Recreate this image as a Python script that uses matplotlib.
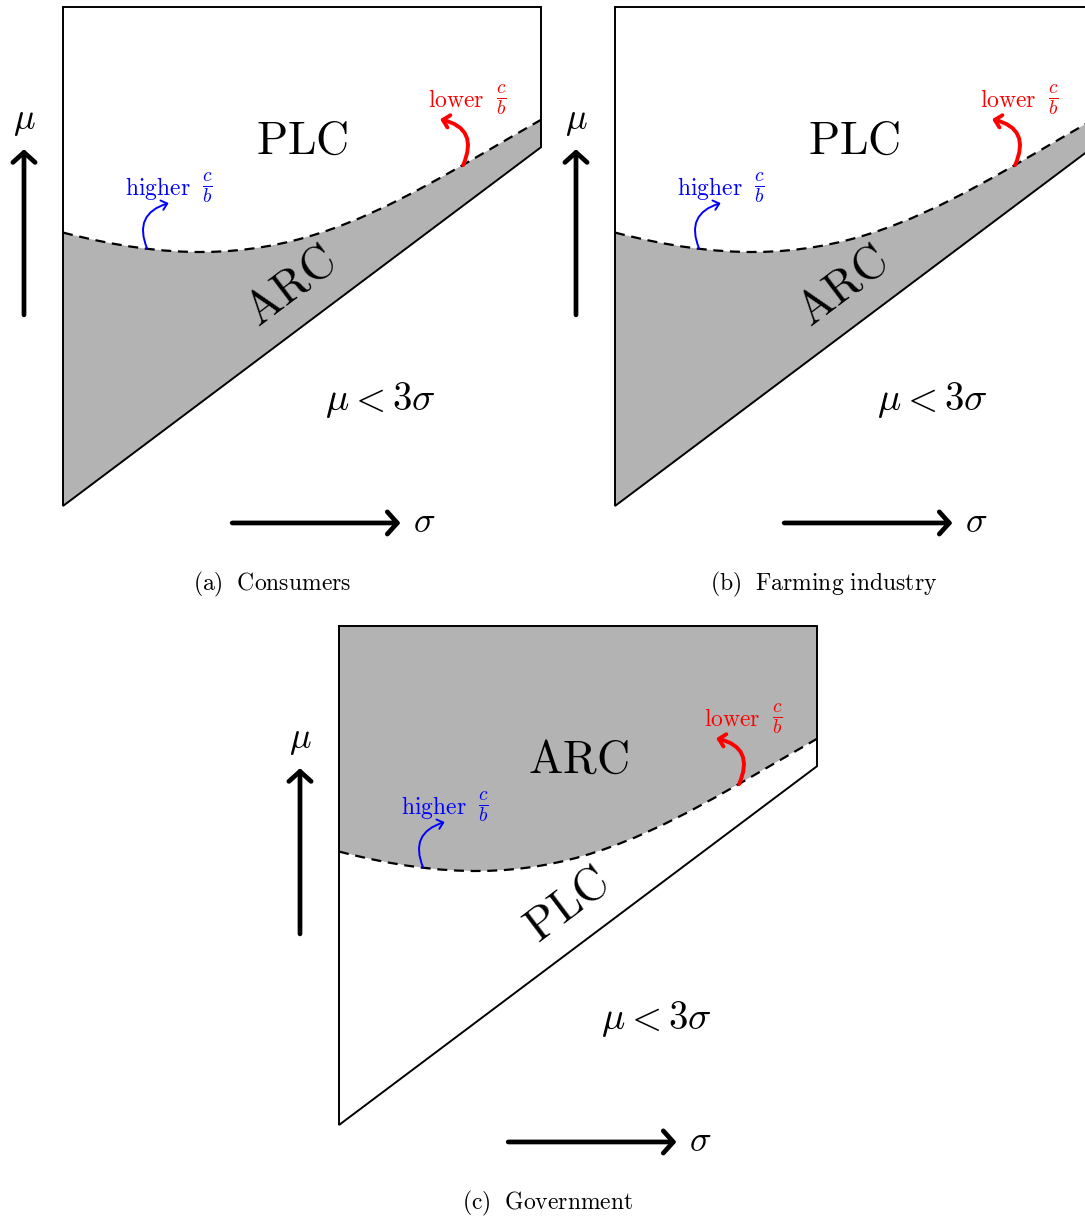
import matplotlib

matplotlib.use("Agg")
import matplotlib.pyplot as plt
from matplotlib.patches import FancyArrowPatch, PathPatch
from matplotlib.path import Path

plt.rcParams["mathtext.fontset"] = "cm"

W, H = 1085, 1217
PANEL_W, PANEL_H = 478, 499

# boundary curve between the two policy regions, as a cubic Bezier
# (start, two control points, end) in panel units (sigma, mu)
curve_sigma = [0.0, 0.45, 0.65, 1.0]
curve_mu = [0.548, 0.436, 0.582, 0.774]

# mu = 3 sigma line and top of the plotted region
diag_sigma = [0.0, 1.0]
diag_mu = [0.0, 0.719]
top_mu = 1.0

# the three panels
captions = [r"$\mathrm{(a)\ \ Consumers}$",
            r"$\mathrm{(b)\ \ Farming\ industry}$",
            r"$\mathrm{(c)\ \ Government}$"]
upper_names = ["PLC", "PLC", "ARC"]
lower_names = ["ARC", "ARC", "PLC"]
upper_shaded = [False, False, True]
panel_origin_px = [(63, 7), (615, 7), (339, 626)]

GRAY = "#b3b3b3"
C4 = [Path.CURVE4] * 3


def draw_panel(ax, caption, upper_name, lower_name, shade_upper):
    ax.set_xlim(0, 1)
    ax.set_ylim(0, 1)
    ax.axis("off")

    pts = list(zip(curve_sigma, curve_mu))
    upper = Path([(0, top_mu), (1, top_mu)] + pts[::-1] + [(0, top_mu)],
                 [Path.MOVETO, Path.LINETO, Path.LINETO] + C4 + [Path.CLOSEPOLY])
    lower = Path(pts + [(diag_sigma[1], diag_mu[1]), (diag_sigma[0], diag_mu[0]), pts[0]],
                 [Path.MOVETO] + C4 + [Path.LINETO, Path.LINETO, Path.CLOSEPOLY])
    ax.add_patch(PathPatch(upper, lw=0, fc=GRAY if shade_upper else "white",
                           clip_on=False))
    ax.add_patch(PathPatch(lower, lw=0, fc="white" if shade_upper else GRAY,
                           clip_on=False))

    # outline
    ox = [0, 1, diag_sigma[1], diag_sigma[0], 0]
    oy = [top_mu, top_mu, diag_mu[1], diag_mu[0], top_mu]
    ax.plot(ox, oy, color="black", lw=1.4, clip_on=False,
            solid_joinstyle="miter")
    ax.add_patch(PathPatch(Path(pts, [Path.MOVETO] + C4), fill=False,
                           ec="black", lw=1.6, linestyle=(0, (4.5, 3)),
                           clip_on=False))

    # region labels
    ax.text(0.5, 0.731, rf"$\mathrm{{{upper_name}}}$", fontsize=33,
            ha="center", va="center")
    ax.text(0.477, 0.439, rf"$\mathrm{{{lower_name}}}$", fontsize=33,
            ha="center", va="center", rotation=37, rotation_mode="anchor")
    ax.text(0.665, 0.212, r"$\mu < 3\sigma$", fontsize=28,
            ha="center", va="center")

    # shift arrows
    ax.add_patch(FancyArrowPatch((0.176, 0.516), (0.221, 0.607),
                                 connectionstyle="arc3,rad=-0.55",
                                 arrowstyle="->,head_length=0.4,head_width=0.35",
                                 mutation_scale=10, color="blue", lw=1.4,
                                 shrinkA=0, shrinkB=0, clip_on=False))
    ax.text(0.130, 0.636, r"$\mathrm{higher}$", fontsize=17,
            color="blue", ha="left", va="center")
    ax.text(0.301, 0.636, r"$\frac{c}{b}$", fontsize=20,
            color="blue", ha="center", va="center")
    ax.add_patch(FancyArrowPatch((0.837, 0.683), (0.789, 0.775),
                                 connectionstyle="arc3,rad=0.6",
                                 arrowstyle="->,head_length=0.45,head_width=0.45",
                                 mutation_scale=10, color="red", lw=2.8,
                                 shrinkA=0, shrinkB=0, clip_on=False))
    ax.text(0.764, 0.814, r"$\mathrm{lower}$", fontsize=17,
            color="red", ha="left", va="center")
    ax.text(0.916, 0.814, r"$\frac{c}{b}$", fontsize=20,
            color="red", ha="center", va="center")

    # axis direction arrows
    ax.add_patch(FancyArrowPatch((-0.0816, 0.383), (-0.0816, 0.715),
                                 arrowstyle="->,head_length=0.36,head_width=0.4",
                                 mutation_scale=20, color="black", lw=3.4,
                                 shrinkA=0, shrinkB=0, clip_on=False))
    ax.text(-0.0816, 0.772, r"$\mu$", fontsize=26, ha="center", va="center")
    ax.add_patch(FancyArrowPatch((0.354, -0.034), (0.706, -0.034),
                                 arrowstyle="->,head_length=0.36,head_width=0.4",
                                 mutation_scale=20, color="black", lw=3.4,
                                 shrinkA=0, shrinkB=0, clip_on=False))
    ax.text(0.755, -0.032, r"$\sigma$", fontsize=26, ha="center", va="center")

    ax.text(0.437, -0.157, caption, fontsize=17, ha="center", va="center")


fig = plt.figure(figsize=(W / 100, H / 100), dpi=100)
for cap, up, low, shade, (x0, y0) in zip(captions, upper_names, lower_names,
                                         upper_shaded, panel_origin_px):
    ax = fig.add_axes([x0 / W, 1 - (y0 + PANEL_H) / H, PANEL_W / W, PANEL_H / H])
    draw_panel(ax, cap, up, low, shade)

fig.savefig("out.png", dpi=100)
